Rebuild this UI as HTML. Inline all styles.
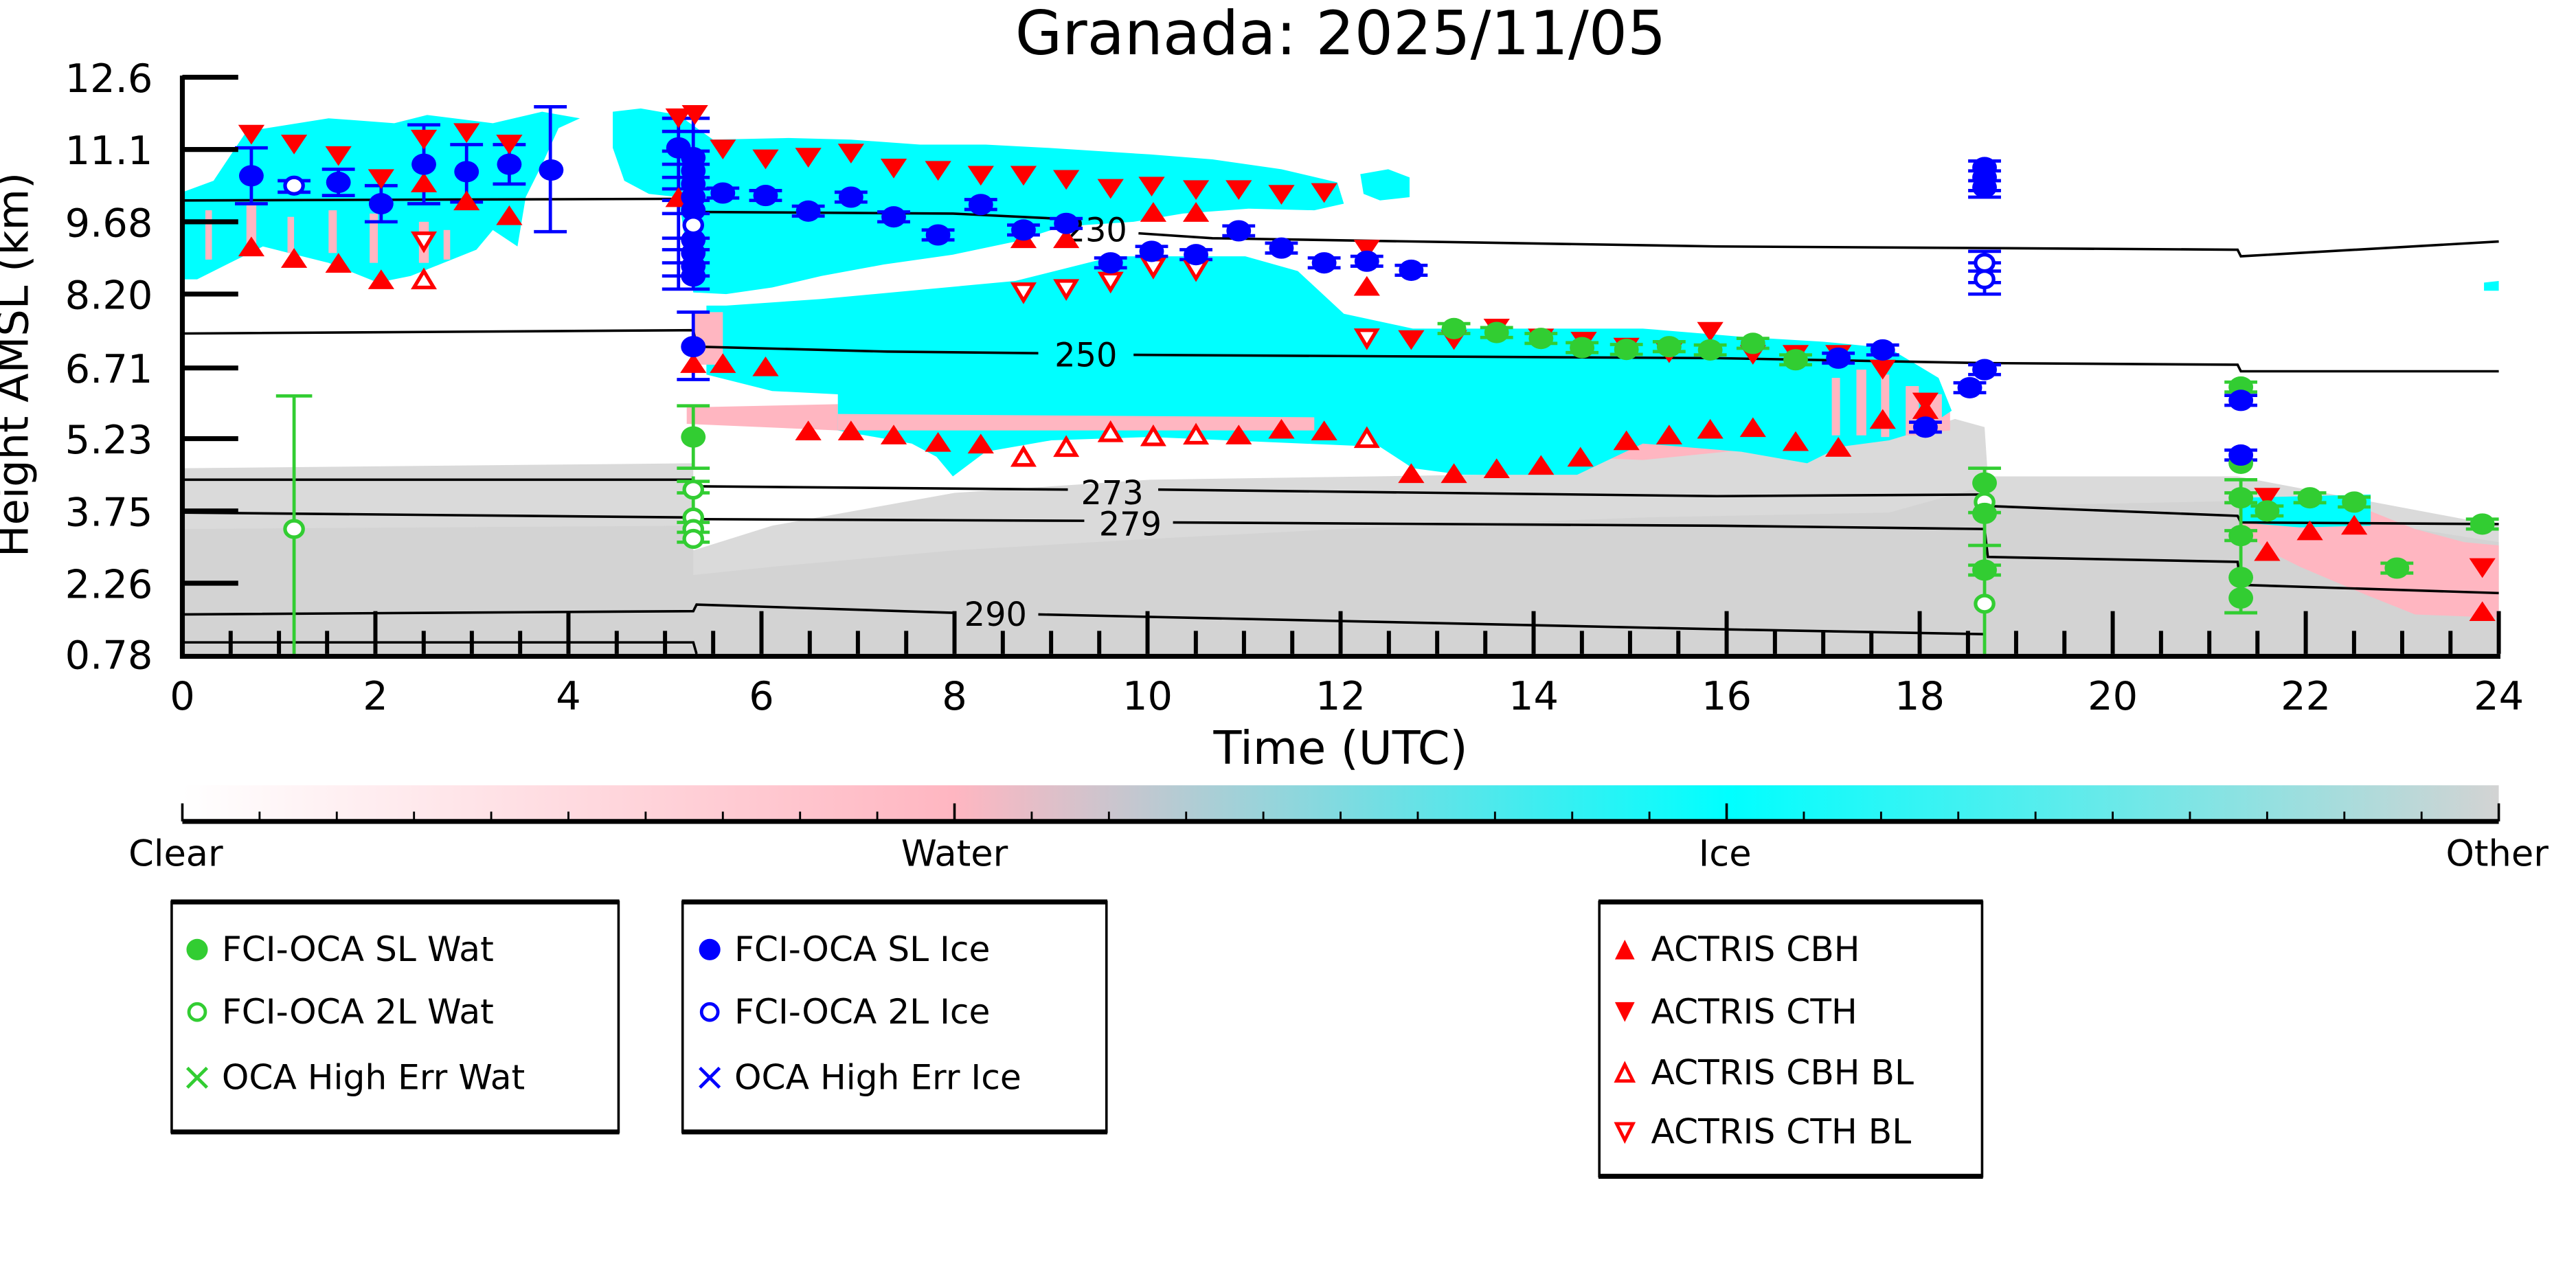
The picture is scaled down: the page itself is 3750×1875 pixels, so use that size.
<!DOCTYPE html>
<html><head><meta charset="utf-8"><style>html,body{margin:0;padding:0;background:#fff}svg{display:block}</style></head>
<body>
<svg xmlns="http://www.w3.org/2000/svg" xmlns:xlink="http://www.w3.org/1999/xlink" width="3750" height="1875" viewBox="0 0 1568 784" font-family="'DejaVu Sans','Liberation Sans',sans-serif">
<defs>
<linearGradient id="cb" x1="0" x2="1" y1="0" y2="0">
<stop offset="0" stop-color="#ffffff"/><stop offset="0.333" stop-color="#ffb6c1"/><stop offset="0.667" stop-color="#00ffff"/><stop offset="1" stop-color="#d3d3d3"/>
</linearGradient>
<path id="tu" d="M-8,6 L8,6 L0,-6Z" fill="#ff0000"/>
<path id="td" d="M-8,-6 L8,-6 L0,6Z" fill="#ff0000"/>
<path id="tuo" d="M-6,5 L6,5 L0,-5Z" fill="#fff" stroke="#ff0000" stroke-width="2.2"/>
<path id="tdo" d="M-6,-5 L6,-5 L0,5Z" fill="#fff" stroke="#ff0000" stroke-width="2.2"/>
<ellipse id="bf" rx="7.5" ry="6.5" fill="#0000ff"/>
<ellipse id="bo" rx="5.5" ry="5" fill="#fff" stroke="#0000ff" stroke-width="2.2"/>
<ellipse id="gf" rx="7.5" ry="6.5" fill="#32cd32"/>
<ellipse id="go" rx="5.5" ry="5" fill="#fff" stroke="#32cd32" stroke-width="2.2"/>
<path id="bc" d="M-10,-3 H10 M-10,3 H10" stroke="#0000ff" stroke-width="2"/>
<path id="gc" d="M-10,-3 H10 M-10,3 H10" stroke="#32cd32" stroke-width="2"/>
</defs>

<text x="816" y="33" font-size="37" text-anchor="middle">Granada: 2025/11/05</text>

<polygon fill="#dadada" points="111,285 422,282 422,335 470,320 581,300 700,292 900,289 1000,275 1150,268 1190,255 1208,260 1210,290 1362,290 1521,320 1521,398 111,398"/>
<polygon fill="#d3d3d3" points="111,322 422,320 422,350 470,345 581,335 700,328 816,322 1000,315 1150,312 1200,298 1208,300 1210,308 1362,305 1521,330 1521,398 111,398"/>

<polygon fill="#ffb6c1" points="418,248 510,246 510,262 418,258"/>
<polygon fill="#ffb6c1" points="860,268 1000,266 1100,270 1187,262 1187,250 1100,270 1000,280 900,276"/>
<polygon fill="#ffb6c1" points="1363,305 1440,310 1470,322 1500,330 1521,332 1521,376 1470,374 1440,362 1400,345 1380,335 1363,320"/>

<polygon fill="#00ffff" points="111,117 130,110 150,80 200,72 240,75 260,70 300,75 330,68 353,72 340,78 330,100 320,120 315,150 300,140 290,152 270,160 250,168 230,172 200,160 180,155 160,150 140,160 120,170 111,170"/>
<polygon fill="#00ffff" points="373,68 390,66 413,70 434,85 480,84 518,85 560,88 600,88 638,90 700,94 738,97 780,103 814,111 818,124 800,128 760,127 720,130 690,135 660,137 640,140 618,147 580,155 538,161 500,168 470,175 442,179 422,178 413,120 395,118 380,110 373,90"/>
<polygon fill="#00ffff" points="828,106 845,103 858,108 858,120 840,122 830,118"/>
<polygon fill="#00ffff" points="430,186 442,186 500,182 554,177 618,171 678,156 758,156 790,165 818,191 860,200 1000,200 1060,205 1110,208 1150,212 1180,230 1188,250 1170,262 1150,268 1120,272 1100,282 1060,275 1000,270 960,289 890,289 860,285 840,272 700,266 640,268 600,275 580,290 570,278 555,270 510,262 510,240 470,238 430,228"/>
<polygon fill="#00ffff" points="1363,303 1443,301 1443,320 1400,321 1363,318"/>
<polygon fill="#00ffff" points="1512,172 1521,171 1521,177 1512,177"/>
<g fill="#ffb6c1">
<rect x="125" y="128" width="4" height="30"/><rect x="150" y="125" width="6" height="28"/><rect x="175" y="132" width="4" height="22"/><rect x="200" y="128" width="5" height="26"/><rect x="225" y="130" width="5" height="30"/><rect x="255" y="135" width="6" height="25"/><rect x="270" y="140" width="4" height="18"/>
<polygon points="510,252 800,254 800,262 510,262"/>
<polygon points="422,190 440,190 440,222 422,222"/>
<rect x="1115" y="230" width="5" height="35"/><rect x="1130" y="225" width="6" height="40"/><rect x="1145" y="228" width="5" height="38"/><rect x="1160" y="235" width="8" height="30"/><rect x="1172" y="240" width="10" height="20"/>
</g>

<g fill="none" stroke="#000" stroke-width="1.5">
<polyline points="111,122 422,121 424,129 580,130 642,133"/>
<polyline points="693,142 738,145 1045,150 1210,151 1362,152 1364,156 1521,147"/>
<polyline points="111,203 422,201 424,211 540,214 632,215"/>
<polyline points="690,216 1045,218 1208,221 1362,222 1364,226 1521,226"/>
<polyline points="111,292 422,292 424,296 650,298"/>
<polyline points="705,298 1045,302 1208,301 1210,308 1362,314 1364,318 1521,319"/>
<polyline points="111,312 422,315 424,316 660,317"/>
<polyline points="714,318 1045,320 1208,322 1210,339 1362,342 1364,356 1521,361"/>
<polyline points="111,374 422,372 424,368 580,373"/>
<polyline points="632,374 1045,383 1208,386"/>
<polyline points="111,391 422,391 424,398"/>
</g>
<g font-size="20" text-anchor="middle" fill="#000">
<text x="667" y="147">230</text>
<text x="661" y="223">250</text>
<text x="677" y="307">273</text>
<text x="688" y="326">279</text>
<text x="606" y="381">290</text>
</g>

<g stroke="#0000ff" stroke-width="2" fill="none">
<path d="M153,90 V124 M143,90 H163 M143,124 H163"/>
<path d="M169,110 H189 M169,117 H189"/>
<path d="M206,103 V119 M196,103 H216 M196,119 H216"/>
<path d="M232,113 V135 M222,113 H242 M222,135 H242"/>
<path d="M258,76 V124 M248,76 H268 M248,124 H268"/>
<path d="M284,88 V123 M274,88 H294 M274,123 H294"/>
<path d="M310,88 V112 M300,88 H320 M300,112 H320"/>
<path d="M335,65 V141 M325,65 H345 M325,141 H345"/>
<path d="M413,72 V176 M422,72 V176 M403,72 H432 M403,80 H432 M403,92 H432 M403,100 H432 M403,108 H432 M403,115 H432 M403,122 H432 M403,130 H432 M403,145 H432 M403,152 H432 M403,160 H432 M403,168 H432 M403,176 H432"/>
<path d="M422,190 V231 M412,190 H432 M412,231 H432"/>
<path d="M1198,98 H1218 M1198,104 H1218 M1198,110 H1218 M1198,116 H1218 M1198,120 H1218"/>
<path d="M1198,153 H1218 M1198,160 H1218 M1198,165 H1218 M1198,172 H1218 M1198,179 H1218 M1208,153 V179"/>
</g>
<g stroke="#32cd32" stroke-width="2" fill="none">
<path d="M179,241 V398 M168,241 H190"/>
<path d="M422,247 V285 M412,247 H432 M412,285 H432"/>
<path d="M412,293 H432 M412,300 H432 M412,318 H432 M412,324 H432 M412,330 H432 M422,290 V332"/>
<path d="M1208,285 V398 M1198,285 H1218 M1198,332 H1218 M1198,312 H1218"/>
<path d="M1364,292 V373 M1354,292 H1374 M1354,373 H1374"/>
</g>
<g>
<use xlink:href="#bc" x="440" y="117.5"/><use xlink:href="#bc" x="466" y="119"/><use xlink:href="#bc" x="492" y="128.5"/><use xlink:href="#bc" x="518" y="120"/><use xlink:href="#bc" x="544" y="132"/><use xlink:href="#bc" x="571" y="143"/><use xlink:href="#bc" x="597" y="124.5"/><use xlink:href="#bc" x="623" y="140"/><use xlink:href="#bc" x="649" y="136"/><use xlink:href="#bc" x="676" y="160"/><use xlink:href="#bc" x="701" y="153"/><use xlink:href="#bc" x="728" y="155"/><use xlink:href="#bc" x="754" y="140.5"/><use xlink:href="#bc" x="780" y="151"/><use xlink:href="#bc" x="806" y="160"/><use xlink:href="#bc" x="832" y="159"/><use xlink:href="#bc" x="859" y="164.5"/>
<use xlink:href="#bc" x="1119" y="218"/><use xlink:href="#bc" x="1146" y="213"/><use xlink:href="#bc" x="1172" y="260"/><use xlink:href="#bc" x="1199" y="236"/><use xlink:href="#bc" x="1208" y="225"/><use xlink:href="#bc" x="1364" y="243.7"/><use xlink:href="#bc" x="1364" y="277"/>
<use xlink:href="#gc" x="885" y="200"/><use xlink:href="#gc" x="911" y="202.4"/><use xlink:href="#gc" x="938" y="206"/><use xlink:href="#gc" x="963" y="211.6"/><use xlink:href="#gc" x="990" y="212.7"/><use xlink:href="#gc" x="1016" y="211"/><use xlink:href="#gc" x="1041" y="213"/><use xlink:href="#gc" x="1067" y="209"/><use xlink:href="#gc" x="1093" y="219"/>
<use xlink:href="#gc" x="1364" y="235.6"/><use xlink:href="#gc" x="1364" y="303"/><use xlink:href="#gc" x="1364" y="326"/><use xlink:href="#gc" x="1380" y="311"/><use xlink:href="#gc" x="1406" y="303"/><use xlink:href="#gc" x="1433" y="305.6"/><use xlink:href="#gc" x="1459" y="345.8"/><use xlink:href="#gc" x="1511" y="319"/><use xlink:href="#gc" x="1208" y="347"/>
</g>

<g>
<use xlink:href="#td" x="153" y="82"/><use xlink:href="#td" x="179" y="88"/><use xlink:href="#td" x="206" y="95"/><use xlink:href="#td" x="232" y="109"/><use xlink:href="#td" x="258" y="85"/><use xlink:href="#td" x="284" y="81"/><use xlink:href="#td" x="310" y="88"/><use xlink:href="#td" x="413" y="72"/><use xlink:href="#td" x="423" y="70"/>
<use xlink:href="#tu" x="153" y="150"/><use xlink:href="#tu" x="179" y="157"/><use xlink:href="#tu" x="206" y="160"/><use xlink:href="#tu" x="232" y="170"/><use xlink:href="#tu" x="258" y="111"/><use xlink:href="#tu" x="284" y="122"/><use xlink:href="#tu" x="310" y="131"/><use xlink:href="#tu" x="413" y="120"/>
<use xlink:href="#tdo" x="258" y="147"/><use xlink:href="#tuo" x="258" y="170"/>
<use xlink:href="#td" x="440" y="91"/><use xlink:href="#td" x="466" y="97"/><use xlink:href="#td" x="492" y="96"/><use xlink:href="#td" x="518" y="93.5"/><use xlink:href="#td" x="544" y="102.6"/><use xlink:href="#td" x="571" y="104"/><use xlink:href="#td" x="597" y="107"/><use xlink:href="#td" x="623" y="107"/><use xlink:href="#td" x="649" y="109.5"/><use xlink:href="#td" x="676" y="115"/><use xlink:href="#td" x="701" y="113.6"/><use xlink:href="#td" x="728" y="115.7"/><use xlink:href="#td" x="754" y="115.7"/><use xlink:href="#td" x="780" y="118.6"/><use xlink:href="#td" x="806" y="117.5"/><use xlink:href="#td" x="832" y="152"/>
<use xlink:href="#td" x="859" y="207"/><use xlink:href="#td" x="885" y="207"/><use xlink:href="#td" x="911" y="200"/><use xlink:href="#td" x="938" y="206"/><use xlink:href="#td" x="964" y="208"/><use xlink:href="#td" x="990" y="211.6"/><use xlink:href="#td" x="1016" y="215"/><use xlink:href="#td" x="1041" y="202"/><use xlink:href="#td" x="1067" y="216"/><use xlink:href="#td" x="1093" y="216"/><use xlink:href="#td" x="1119" y="216"/><use xlink:href="#td" x="1146" y="225"/><use xlink:href="#td" x="1172" y="245"/>
<use xlink:href="#tu" x="702" y="129"/><use xlink:href="#tu" x="728" y="129"/><use xlink:href="#tu" x="623" y="145"/><use xlink:href="#tu" x="649" y="145"/><use xlink:href="#tu" x="832" y="174"/><use xlink:href="#tu" x="422" y="221"/><use xlink:href="#tu" x="440" y="221"/><use xlink:href="#tu" x="466" y="223"/>
<use xlink:href="#tu" x="492" y="262"/><use xlink:href="#tu" x="518" y="262"/><use xlink:href="#tu" x="544" y="264.5"/><use xlink:href="#tu" x="571" y="269"/><use xlink:href="#tu" x="597" y="270"/><use xlink:href="#tu" x="754" y="264.5"/><use xlink:href="#tu" x="780" y="261"/><use xlink:href="#tu" x="806" y="262"/><use xlink:href="#tu" x="859" y="288"/><use xlink:href="#tu" x="885" y="288"/><use xlink:href="#tu" x="911" y="285"/><use xlink:href="#tu" x="938" y="283"/><use xlink:href="#tu" x="962" y="278"/><use xlink:href="#tu" x="990" y="268"/><use xlink:href="#tu" x="1016" y="264.5"/><use xlink:href="#tu" x="1041" y="261"/><use xlink:href="#tu" x="1067" y="260"/><use xlink:href="#tu" x="1093" y="268.5"/><use xlink:href="#tu" x="1119" y="272"/><use xlink:href="#tu" x="1146" y="255"/><use xlink:href="#tu" x="1172" y="249"/>
<use xlink:href="#tuo" x="623" y="278"/><use xlink:href="#tuo" x="649" y="272"/><use xlink:href="#tuo" x="676" y="263"/><use xlink:href="#tuo" x="702" y="265.5"/><use xlink:href="#tuo" x="728" y="264.5"/><use xlink:href="#tuo" x="832" y="266.6"/>
<use xlink:href="#tdo" x="623" y="178"/><use xlink:href="#tdo" x="649" y="176"/><use xlink:href="#tdo" x="676" y="171.5"/><use xlink:href="#tdo" x="702" y="163"/><use xlink:href="#tdo" x="728" y="164.5"/><use xlink:href="#tdo" x="832" y="206"/>
<use xlink:href="#td" x="1380" y="303"/><use xlink:href="#tu" x="1406" y="322.8"/><use xlink:href="#tu" x="1433" y="319.4"/><use xlink:href="#tu" x="1380" y="335.4"/><use xlink:href="#td" x="1511" y="345.8"/><use xlink:href="#tu" x="1511" y="372"/>
</g>

<g>
<use xlink:href="#bf" x="153" y="107"/><use xlink:href="#bo" x="179" y="113"/><use xlink:href="#bf" x="206" y="111"/><use xlink:href="#bf" x="232" y="124"/><use xlink:href="#bf" x="258" y="100"/><use xlink:href="#bf" x="284" y="104.5"/><use xlink:href="#bf" x="310" y="100"/><use xlink:href="#bf" x="335.5" y="103.5"/>
<use xlink:href="#bf" x="413" y="90"/><use xlink:href="#bf" x="422" y="96"/><use xlink:href="#bf" x="422" y="104"/><use xlink:href="#bf" x="422" y="112"/><use xlink:href="#bf" x="422" y="120"/><use xlink:href="#bf" x="422" y="128"/><use xlink:href="#bf" x="422" y="146"/><use xlink:href="#bf" x="422" y="154"/><use xlink:href="#bf" x="422" y="162"/><use xlink:href="#bf" x="422" y="168"/><use xlink:href="#bo" x="422" y="137"/><use xlink:href="#bf" x="422" y="211"/>
<use xlink:href="#bf" x="440" y="117.5"/><use xlink:href="#bf" x="466" y="119"/><use xlink:href="#bf" x="492" y="128.5"/><use xlink:href="#bf" x="518" y="120"/><use xlink:href="#bf" x="544" y="132"/><use xlink:href="#bf" x="571" y="143"/><use xlink:href="#bf" x="597" y="124.5"/><use xlink:href="#bf" x="623" y="140"/><use xlink:href="#bf" x="649" y="136"/><use xlink:href="#bf" x="676" y="160"/><use xlink:href="#bf" x="701" y="153"/><use xlink:href="#bf" x="728" y="155"/><use xlink:href="#bf" x="754" y="140.5"/><use xlink:href="#bf" x="780" y="151"/><use xlink:href="#bf" x="806" y="160"/><use xlink:href="#bf" x="832" y="159"/><use xlink:href="#bf" x="859" y="164.5"/>
<use xlink:href="#gf" x="885" y="200"/><use xlink:href="#gf" x="911" y="202.4"/><use xlink:href="#gf" x="938" y="206"/><use xlink:href="#gf" x="963" y="211.6"/><use xlink:href="#gf" x="990" y="212.7"/><use xlink:href="#gf" x="1016" y="211"/><use xlink:href="#gf" x="1041" y="213"/><use xlink:href="#gf" x="1067" y="209"/><use xlink:href="#gf" x="1093" y="219"/>
<use xlink:href="#bf" x="1119" y="218"/><use xlink:href="#bf" x="1146" y="213"/><use xlink:href="#bf" x="1172" y="260"/><use xlink:href="#bf" x="1199" y="236"/><use xlink:href="#bf" x="1208" y="225"/>
<use xlink:href="#bf" x="1208" y="102"/><use xlink:href="#bf" x="1208" y="108"/><use xlink:href="#bf" x="1208" y="114"/><use xlink:href="#bo" x="1208" y="160"/><use xlink:href="#bo" x="1208" y="170"/>
<use xlink:href="#go" x="179" y="322"/><use xlink:href="#gf" x="422" y="266"/><use xlink:href="#go" x="422" y="298"/><use xlink:href="#go" x="422" y="315"/><use xlink:href="#go" x="422" y="322"/><use xlink:href="#go" x="422" y="328"/>
<use xlink:href="#gf" x="1208" y="294"/><use xlink:href="#go" x="1208" y="305.6"/><use xlink:href="#gf" x="1208" y="312.5"/><use xlink:href="#gf" x="1208" y="347"/><use xlink:href="#go" x="1208" y="367.5"/>
<use xlink:href="#gf" x="1364" y="235.6"/><use xlink:href="#bf" x="1364" y="243.7"/><use xlink:href="#gf" x="1364" y="282"/><use xlink:href="#bf" x="1364" y="277"/><use xlink:href="#gf" x="1364" y="303"/><use xlink:href="#gf" x="1364" y="326"/><use xlink:href="#gf" x="1364" y="351.5"/><use xlink:href="#gf" x="1364" y="364"/>
<use xlink:href="#gf" x="1380" y="311"/><use xlink:href="#gf" x="1406" y="303"/><use xlink:href="#gf" x="1433" y="305.6"/><use xlink:href="#gf" x="1459" y="345.8"/><use xlink:href="#gf" x="1511" y="319"/>
</g>

<g stroke="#000" stroke-width="3" fill="none">
<path d="M111,46 V399.5 H1522"/>
<path d="M111,47 H145 M111,91 H145 M111,135 H145 M111,179 H145 M111,224 H145 M111,267 H145 M111,311 H145 M111,355 H145"/>
</g>
<g stroke="#000" stroke-width="2.5" fill="none">
<path d="M228.5,398 V372 M346,398 V372 M463.5,398 V372 M581,398 V372 M698.5,398 V372 M816,398 V372 M933.5,398 V372 M1051,398 V372 M1168.5,398 V372 M1286,398 V372 M1403.5,398 V372 M1521,398 V372"/>
<path d="M140.4,398 V384 M169.8,398 V384 M199.1,398 V384 M257.9,398 V384 M287.2,398 V384 M316.6,398 V384 M375.4,398 V384 M404.8,398 V384 M434.1,398 V384 M492.9,398 V384 M522.2,398 V384 M551.6,398 V384 M610.4,398 V384 M639.8,398 V384 M669.1,398 V384 M727.9,398 V384 M757.2,398 V384 M786.6,398 V384 M845.4,398 V384 M874.8,398 V384 M904.1,398 V384 M962.9,398 V384 M992.2,398 V384 M1021.6,398 V384 M1080.4,398 V384 M1109.8,398 V384 M1139.1,398 V384 M1197.9,398 V384 M1227.2,398 V384 M1256.6,398 V384 M1315.4,398 V384 M1344.8,398 V384 M1374.1,398 V384 M1432.9,398 V384 M1462.2,398 V384 M1491.6,398 V384"/>
</g>
<g font-size="24" text-anchor="end" fill="#000">
<text x="93" y="56">12.6</text><text x="93" y="100">11.1</text><text x="93" y="144">9.68</text><text x="93" y="188">8.20</text><text x="93" y="233">6.71</text><text x="93" y="276">5.23</text><text x="93" y="320">3.75</text><text x="93" y="364">2.26</text><text x="93" y="407">0.78</text>
</g>
<g font-size="24" text-anchor="middle" fill="#000">
<text x="111" y="432">0</text><text x="228.5" y="432">2</text><text x="346" y="432">4</text><text x="463.5" y="432">6</text><text x="581" y="432">8</text><text x="698.5" y="432">10</text><text x="816" y="432">12</text><text x="933.5" y="432">14</text><text x="1051" y="432">16</text><text x="1168.5" y="432">18</text><text x="1286" y="432">20</text><text x="1403.5" y="432">22</text><text x="1521" y="432">24</text>
</g>
<text x="816" y="465" font-size="28" text-anchor="middle">Time (UTC)</text>
<text transform="translate(17,222) rotate(-90)" font-size="26" text-anchor="middle">Height AMSL (km)</text>

<rect x="111" y="478" width="1410" height="22" fill="url(#cb)"/>
<path d="M111,500 H1521" stroke="#000" stroke-width="3"/>
<path d="M111,500 V489 M581,500 V489 M1051,500 V489 M1521,500 V489" stroke="#000" stroke-width="1.5"/>
<path d="M158,500 V494 M205,500 V494 M252,500 V494 M299,500 V494 M346,500 V494 M393,500 V494 M440,500 V494 M487,500 V494 M534,500 V494 M628,500 V494 M675,500 V494 M722,500 V494 M769,500 V494 M816,500 V494 M863,500 V494 M910,500 V494 M957,500 V494 M1004,500 V494 M1098,500 V494 M1145,500 V494 M1192,500 V494 M1239,500 V494 M1286,500 V494 M1333,500 V494 M1380,500 V494 M1427,500 V494 M1474,500 V494" stroke="#000" stroke-width="1.2"/>
<g font-size="22" text-anchor="middle">
<text x="107" y="527">Clear</text><text x="581" y="527">Water</text><text x="1050" y="527">Ice</text><text x="1520" y="527">Other</text>
</g>

<g fill="none" stroke="#000">
<rect x="104.5" y="549" width="272" height="140" stroke-width="1.5"/>
<rect x="415.5" y="549" width="258" height="140" stroke-width="1.5"/>
<rect x="973.5" y="549" width="233" height="167" stroke-width="1.5"/>
<path d="M104,549 H377 M104,689 H377 M415,549 H674 M415,689 H674 M973,549 H1207 M973,716 H1207" stroke-width="3"/>
</g>
<g font-size="21" fill="#000">
<ellipse cx="120" cy="578" rx="6.5" ry="6.5" fill="#32cd32"/><text x="135" y="585">FCI-OCA SL Wat</text>
<ellipse cx="120" cy="616" rx="5" ry="5" fill="#fff" stroke="#32cd32" stroke-width="2"/><text x="135" y="623">FCI-OCA 2L Wat</text>
<path d="M114,650 L126,662 M126,650 L114,662" stroke="#32cd32" stroke-width="2"/><text x="135" y="663">OCA High Err Wat</text>
<ellipse cx="432" cy="578" rx="6.5" ry="6.5" fill="#0000ff"/><text x="447" y="585">FCI-OCA SL Ice</text>
<ellipse cx="432" cy="616" rx="5" ry="5" fill="#fff" stroke="#0000ff" stroke-width="2"/><text x="447" y="623">FCI-OCA 2L Ice</text>
<path d="M426,650 L438,662 M438,650 L426,662" stroke="#0000ff" stroke-width="2"/><text x="447" y="663">OCA High Err Ice</text>
<path d="M983,584 L995,584 L989,572Z" fill="#ff0000"/><text x="1005" y="585">ACTRIS CBH</text>
<path d="M983,610 L995,610 L989,622Z" fill="#ff0000"/><text x="1005" y="623">ACTRIS CTH</text>
<path d="M984,658 L994,658 L989,648Z" fill="#fff" stroke="#ff0000" stroke-width="2"/><text x="1005" y="660">ACTRIS CBH BL</text>
<path d="M984,684 L994,684 L989,694Z" fill="#fff" stroke="#ff0000" stroke-width="2"/><text x="1005" y="696">ACTRIS CTH BL</text>
</g>
</svg>
</body></html>
